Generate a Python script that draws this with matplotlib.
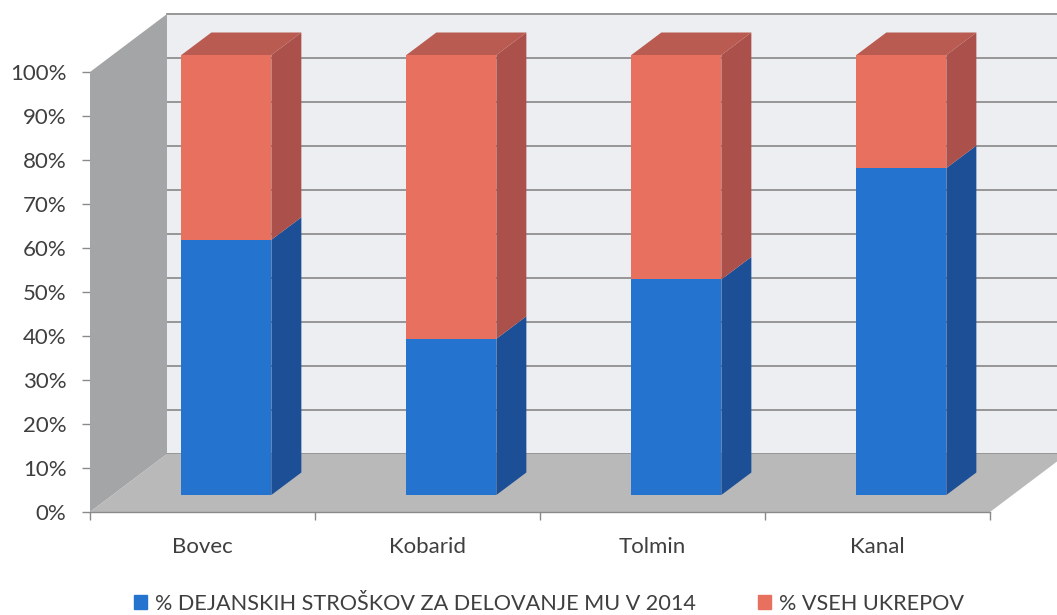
import matplotlib
matplotlib.use('Agg')
import matplotlib.pyplot as plt
from matplotlib.patches import Patch
from matplotlib.ticker import PercentFormatter

plt.rcParams['font.family'] = ['Lato', 'DejaVu Sans']

municipalities = ['Bovec', 'Kobarid', 'Tolmin', 'Kanal']
costs_pct = [58, 35.5, 49, 74.3]
measures_pct = [42, 64.5, 51, 25.7]
y_ticks = [0, 10, 20, 30, 40, 50, 60, 70, 80, 90, 100]
legend_labels = ['% DEJANSKIH STROŠKOV ZA DELOVANJE MU V 2014', '% VSEH UKREPOV']

W, H = 1057, 615
fig = plt.figure(figsize=(W / 100, H / 100), dpi=100, facecolor='white')
# plot box in pixels: x 90-990, y 72-512
ax = fig.add_axes([90 / W, 1 - 512 / H, 900 / W, 440 / H])
ax.set_xlim(0, 4)
ax.set_ylim(0, 100)

# fake 3D depth, in data units
wall_dx, wall_dy = 77 / 225, 58 / 4.4
bar_x, bar_y = 0.106, 17 / 4.4
bar_dx, bar_dy = 30 / 225, 22.5 / 4.4
bar_w = 0.4

ax.patch.set_visible(False)
for s in ax.spines.values():
    s.set_visible(False)

# back wall, side wall, floor
ax.fill([wall_dx, 4 + wall_dx, 4 + wall_dx, wall_dx],
        [wall_dy, wall_dy, 100 + wall_dy, 100 + wall_dy],
        color='#eceef1', lw=0, clip_on=False, zorder=1)
for t in y_ticks:
    ax.plot([wall_dx, 4 + wall_dx], [t + wall_dy, t + wall_dy],
            color='#8f8f8f', lw=1.3, clip_on=False, zorder=1.5)
ax.fill([0, wall_dx, wall_dx, 0], [0, wall_dy, 100 + wall_dy, 100],
        color='#a3a5a6', lw=0, clip_on=False, zorder=2)
ax.fill([0, 4, 4 + wall_dx, wall_dx], [0, 0, wall_dy, wall_dy],
        color='#b9b9b9', lw=0, clip_on=False, zorder=2)
ax.plot([0, 4], [0, 0], color='#8a8a8a', lw=1, clip_on=False, zorder=2.5)


def draw_segment(x, bottom, height, front, side, top=None):
    left = x + bar_x - bar_w / 2
    right = left + bar_w
    y0 = bottom + bar_y
    y1 = y0 + height
    ax.bar(left, height, bar_w, bottom=y0, align='edge', color=front, lw=0,
           clip_on=False, zorder=4)
    ax.fill([right, right + bar_dx, right + bar_dx, right],
            [y0, y0 + bar_dy, y1 + bar_dy, y1],
            color=side, lw=0, clip_on=False, zorder=4)
    if top:
        ax.fill([left, right, right + bar_dx, left + bar_dx],
                [y1, y1, y1 + bar_dy, y1 + bar_dy],
                color=top, lw=0, clip_on=False, zorder=4)


for i, (c, m) in enumerate(zip(costs_pct, measures_pct)):
    x = i + 0.5
    draw_segment(x, 0, c, '#2473cf', '#1c4f96')
    draw_segment(x, c, m, '#e8705f', '#ab504b', '#b95b50')

ax.set_yticks(y_ticks)
ax.yaxis.set_major_formatter(PercentFormatter(100, decimals=0))
ax.set_xticks(range(5))
ax.set_xticklabels([])
ax.set_xticks([i + 0.5 for i in range(4)], municipalities, minor=True)
ax.tick_params(axis='both', which='major', color='#8a8a8a', length=6, width=1)
ax.tick_params(axis='y', labelsize=16, labelcolor='#3f3f3f', pad=11)
ax.tick_params(axis='x', which='minor', length=0, labelsize=16,
               labelcolor='#3f3f3f', pad=18)

handles = [Patch(color='#2473cf'), Patch(color='#e8705f')]
fig.legend(handles, legend_labels, loc='lower left',
           bbox_to_anchor=(134 / W, 1 / H), ncol=2, frameon=False,
           fontsize=15.6, labelcolor='#3f3f3f', handlelength=0.62,
           handleheight=0.62, handletextpad=0.35, columnspacing=2.85,
           borderpad=0, borderaxespad=0)

fig.savefig('out.png', dpi=100)
